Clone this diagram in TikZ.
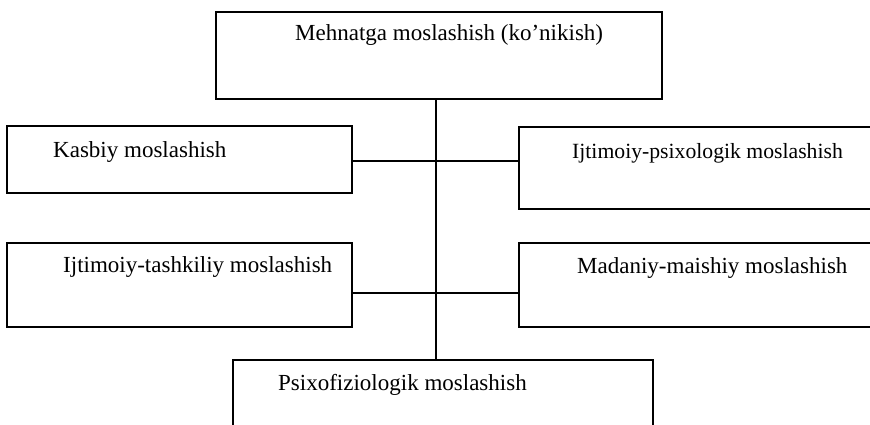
\documentclass[tikz,border=0pt]{standalone}
\usepackage{fontspec}
\setmainfont{Liberation Serif}
\begin{document}
\begin{tikzpicture}[x=1pt,y=-1pt,
  box/.style={draw=black, line width=1.1pt, inner sep=0pt},
  lbl/.style={anchor=base west, inner sep=0pt, font=\fontsize{23}{26}\selectfont},
  link/.style={draw=black, line width=1.1pt}]
\clip (0,0) rectangle (870,424);
\useasboundingbox (0,0) rectangle (870,424);
% boxes
\node[box, minimum width=446pt, minimum height=87pt] (top) at (439,55.5) {};
\node[box, minimum width=345pt, minimum height=67pt] (kas) at (179.5,159.5) {};
\node[box, minimum width=380pt, minimum height=82pt] (ijp) at (709,168) {};
\node[box, minimum width=345pt, minimum height=84pt] (ijt) at (179.5,285) {};
\node[box, minimum width=380pt, minimum height=84pt] (mad) at (709,285) {};
\node[box, minimum width=420pt, minimum height=110pt] (psi) at (443,415) {};
% labels
\node[lbl] (tTop) at (295,40) {Mehnatga moslashish (ko’nikish)};
\node[lbl] (tKas) at (53,157) {Kasbiy moslashish};
\node[lbl, font=\fontsize{21.7}{26}\selectfont] (tIjp) at (572,158) {Ijtimoiy-psixologik moslashish};
\node[lbl] (tIjt) at (63,272) {Ijtimoiy-tashkiliy moslashish};
\node[lbl] (tMad) at (577,273) {Madaniy-maishiy moslashish};
\node[lbl] (tPsi) at (278,390) {Psixofiziologik moslashish};
% connectors
\coordinate (j1) at (436,161);
\coordinate (j2) at (436,293);
\draw[link] (top.south -| j1) -- (psi.north -| j1);
\draw[link] (kas.east |- j1) -- (ijp.west |- j1);
\draw[link] (ijt.east |- j2) -- (mad.west |- j2);
\end{tikzpicture}
\end{document}
